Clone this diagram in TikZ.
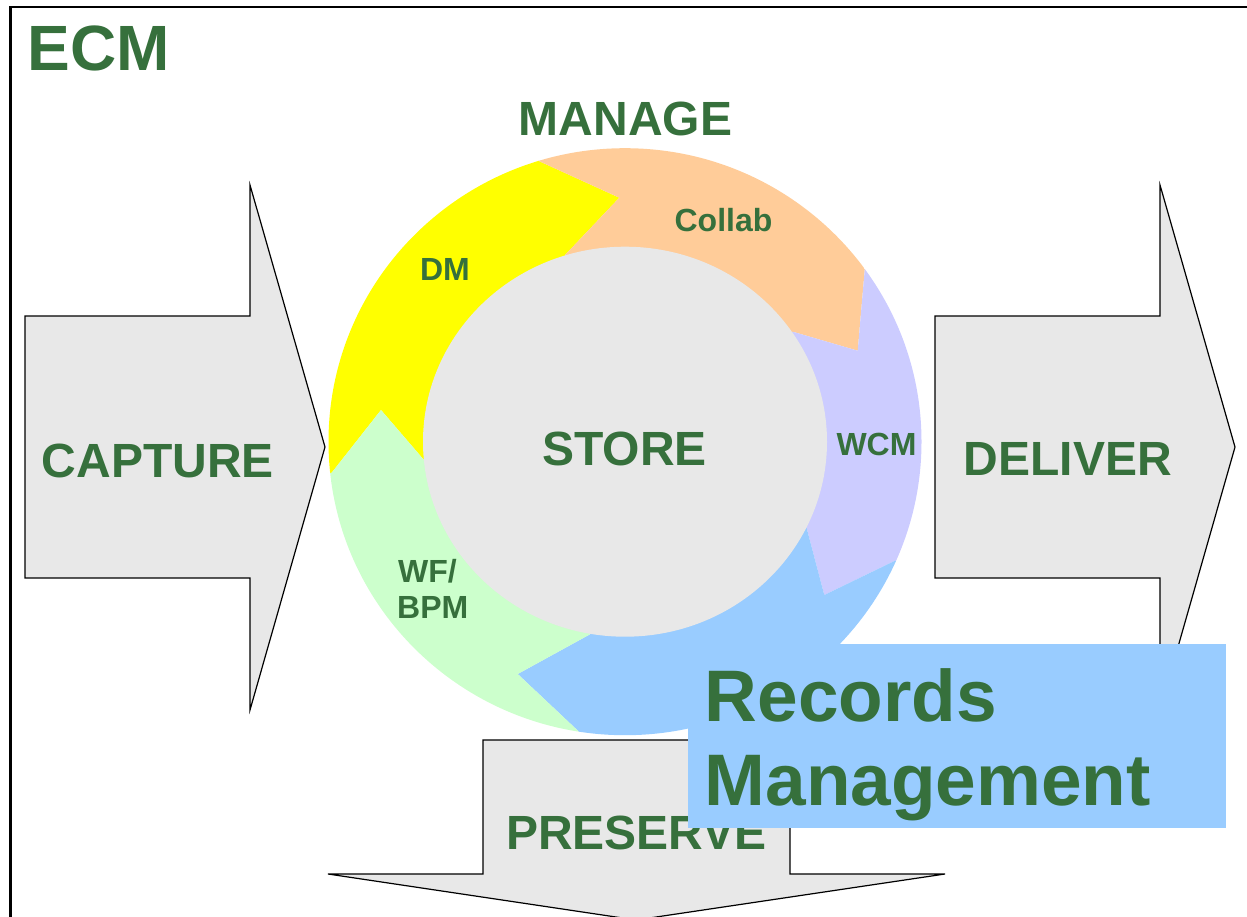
\documentclass[tikz,border=0pt]{standalone}
\usepackage{fontspec}
\setmainfont{Liberation Sans}
\usetikzlibrary{calc}
\definecolor{ecmgreen}{RGB}{54,112,60}
\definecolor{boxgray}{RGB}{232,232,232}
\definecolor{dmyellow}{RGB}{255,255,0}
\definecolor{colorange}{RGB}{255,204,153}
\definecolor{wcmpurple}{RGB}{204,204,255}
\definecolor{rmblue}{RGB}{153,204,255}
\definecolor{wfgreen}{RGB}{204,255,204}
\tikzset{
  bigarrow/.style={draw=black, line width=1.2pt, fill=boxgray, line join=miter},
  phase/.style={text=ecmgreen, inner sep=0pt, font=\bfseries\fontsize{48}{58}\selectfont},
  tool/.style={text=ecmgreen, inner sep=0pt, font=\bfseries\fontsize{32}{38}\selectfont},
  rmtext/.style={text=ecmgreen, inner sep=0pt, font=\bfseries\fontsize{73}{84}\selectfont},
}
\begin{document}
\begin{tikzpicture}[x=1pt, y=-1pt]
  \useasboundingbox (0,0) rectangle (1247,917);

  % Frame
  \draw[line width=2.6pt] (10.5,930) -- (10.5,7) -- (1260,7);

  % Big arrows
  \draw[bigarrow] (25,316) -- (250,316) -- (250,185) -- (325,447) -- (250,710) -- (250,578) -- (25,578) -- cycle;
  \draw[bigarrow] (935,316) -- (1160,316) -- (1160,185) -- (1235,447) -- (1160,710) -- (1160,578) -- (935,578) -- cycle;
  \draw[bigarrow] (483,740) -- (790,740) -- (790,874) -- (945,874) -- (636,920) -- (328,874) -- (483,874) -- cycle;

  % Ring points: outer, tip, inner of each arrow head
  \coordinate (cen) at (625,441.7);
  \coordinate (dm-o) at (535,159.3);   \coordinate (dm-t) at (619.3,197.7);  \coordinate (dm-i) at (565,255);
  \coordinate (col-o) at (865,266.7);  \coordinate (col-t) at (857.7,350.7); \coordinate (col-i) at (792.7,331.7);
  \coordinate (wcm-o) at (895,560.7);  \coordinate (wcm-t) at (824.3,595);   \coordinate (wcm-i) at (806.7,528.3);
  \coordinate (rm-o) at (580,732.7);   \coordinate (rm-t) at (517.7,674);    \coordinate (rm-i) at (590,634.3);
  \coordinate (wf-o) at (331.7,472.7); \coordinate (wf-t) at (381,410);      \coordinate (wf-i) at (424,460);

  % Ring segments
  \begin{scope}
    \clip (cen) ellipse [x radius=296.5pt, y radius=293.5pt];
    \foreach \prev/\next/\col in {wf/dm/dmyellow, dm/col/colorange, col/wcm/wcmpurple, wcm/rm/rmblue, rm/wf/wfgreen}
      \fill[\col] (cen) -- (\prev-i) -- (\prev-t) -- (\prev-o) -- ($(cen)!2!(\prev-o)$)
        -- ($(cen)!2!(\next-o)$) -- (\next-o) -- (\next-t) -- (\next-i) -- cycle;
  \end{scope}
  \fill[boxgray] (cen) ellipse [x radius=202pt, y radius=195pt];

  % Labels
  \node[phase, font=\bfseries\fontsize{64}{76}\selectfont, anchor=base west] (ecm) at (27.5,70.7) {ECM};
  \node[phase, anchor=base] (manage) at (625.5,136) {MANAGE};
  \node[phase, anchor=base] (capture) at (158,477) {CAPTURE};
  \node[phase, anchor=base] (store) at (624.5,465) {STORE};
  \node[phase, anchor=base] (deliver) at (1068,475) {DELIVER};
  \node[phase, anchor=base] (preserve) at (636.5,849) {PRESERVE};
  \node[tool, anchor=base] (collab) at (723.5,232) {Collab};
  \node[tool, anchor=base] (dm) at (445,280) {DM};
  \node[tool, anchor=base] (wcm) at (876.5,455) {WCM};
  \node[tool, anchor=base west] (wf) at (398,582) {WF/};
  \node[tool, anchor=base west] (bpm) at (397,618) {BPM};

  % Records Management box
  \node[fill=rmblue, minimum width=538pt, minimum height=184pt, inner sep=0pt, anchor=north west] (rmbox) at (688,644) {};
  \node[rmtext, anchor=base west] (records) at (704.5,721) {Records};
  \node[rmtext, anchor=base west] (mgmt) at (704.5,805) {Management};
\end{tikzpicture}
\end{document}
